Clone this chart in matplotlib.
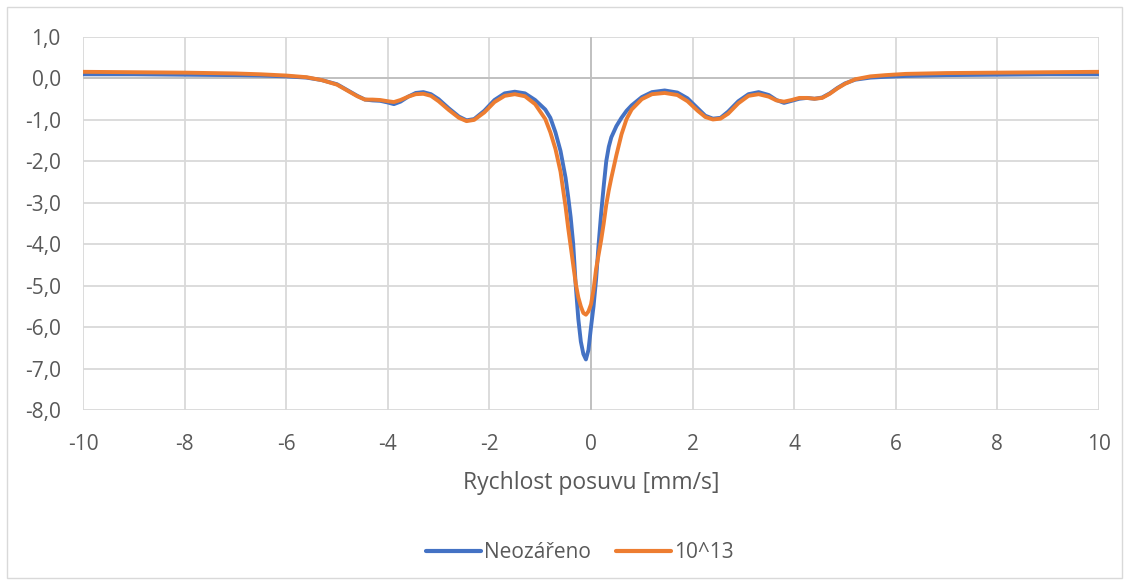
import numpy as np
import matplotlib
matplotlib.use("Agg")
import matplotlib.pyplot as plt
from matplotlib.patches import Rectangle

plt.rcParams["font.family"] = ["Open Sans", "DejaVu Sans"]

# rychlost posuvu [mm/s]
velocity = [-10, -9, -8, -7, -6.5, -6, -5.6, -5.3, -5.0, -4.8, -4.6, -4.45, -4.3, -4.15,
            -4.0, -3.88, -3.75, -3.6, -3.45, -3.3, -3.15, -3.0, -2.8, -2.6, -2.45, -2.3,
            -2.1, -1.9, -1.7, -1.5, -1.3, -1.1, -0.9, -0.8, -0.7, -0.6, -0.5, -0.45, -0.4,
            -0.35, -0.3, -0.25, -0.2, -0.15, -0.1, -0.05, 0.0, 0.05, 0.1, 0.15, 0.2, 0.25,
            0.3, 0.35, 0.4, 0.5, 0.6, 0.7, 0.8, 1.0, 1.2, 1.45, 1.7, 1.9, 2.1, 2.25, 2.4,
            2.55, 2.7, 2.9, 3.1, 3.3, 3.5, 3.65, 3.8, 3.95, 4.1, 4.25, 4.4, 4.55, 4.7,
            4.85, 5.0, 5.2, 5.5, 5.8, 6.2, 7, 8, 9, 10]

neozareno = [0.10, 0.10, 0.09, 0.08, 0.07, 0.05, 0.02, -0.04, -0.14, -0.28, -0.42, -0.51,
             -0.53, -0.54, -0.58, -0.62, -0.56, -0.44, -0.35, -0.33, -0.38, -0.50, -0.72,
             -0.92, -1.01, -0.98, -0.78, -0.52, -0.36, -0.32, -0.36, -0.52, -0.75, -0.95,
             -1.30, -1.75, -2.40, -2.85, -3.35, -4.00, -5.00, -5.80, -6.35, -6.65, -6.78,
             -6.55, -6.00, -5.50, -4.85, -4.00, -3.25, -2.60, -2.00, -1.65, -1.42, -1.15,
             -0.95, -0.78, -0.65, -0.45, -0.33, -0.29, -0.34, -0.48, -0.72, -0.90, -0.97,
             -0.95, -0.80, -0.55, -0.38, -0.33, -0.40, -0.52, -0.59, -0.54, -0.49, -0.47,
             -0.49, -0.46, -0.36, -0.23, -0.12, -0.03, 0.02, 0.04, 0.06, 0.08, 0.09, 0.10,
             0.10]

dose_1e13 = [0.16, 0.15, 0.14, 0.12, 0.10, 0.07, 0.03, -0.04, -0.15, -0.29, -0.43, -0.51,
             -0.51, -0.52, -0.55, -0.57, -0.52, -0.44, -0.38, -0.37, -0.42, -0.55, -0.76,
             -0.95, -1.03, -1.00, -0.82, -0.57, -0.42, -0.38, -0.43, -0.62, -0.98, -1.30,
             -1.70, -2.25, -3.10, -3.60, -4.05, -4.50, -4.95, -5.28, -5.50, -5.66, -5.70,
             -5.62, -5.45, -5.10, -4.60, -4.25, -3.90, -3.50, -3.05, -2.70, -2.40, -1.85,
             -1.35, -0.98, -0.75, -0.50, -0.38, -0.35, -0.40, -0.55, -0.78, -0.93, -0.99,
             -0.97, -0.85, -0.60, -0.42, -0.38, -0.44, -0.53, -0.56, -0.52, -0.47, -0.47,
             -0.49, -0.47, -0.37, -0.24, -0.13, -0.02, 0.05, 0.08, 0.11, 0.13, 0.14, 0.15,
             0.16]

x_ticks = [-10, -8, -6, -4, -2, 0, 2, 4, 6, 8, 10]
y_ticks = [1, 0, -1, -2, -3, -4, -5, -6, -7, -8]
y_labels = ["1,0", "0,0", "-1,0", "-2,0", "-3,0", "-4,0", "-5,0", "-6,0", "-7,0", "-8,0"]

fig = plt.figure(figsize=(11.3, 5.85), dpi=100)
ax = fig.add_axes([83 / 1130, 1 - 410 / 585, (1099 - 83) / 1130, (410 - 37) / 585])

# chart frame
fig.patches.append(Rectangle((7 / 1130, 7 / 585), 1115 / 1130, 571 / 585,
                             transform=fig.transFigure, fill=False,
                             edgecolor="#d9d9d9", lw=1.0))

grid_col = "#d9d9d9"
for xv in x_ticks:
    ax.axvline(xv, color=grid_col, lw=1.3, zorder=0)
for yv in y_ticks:
    ax.axhline(yv, color=grid_col, lw=1.3, zorder=0)
ax.axhline(0, color="#bfbfbf", lw=1.3, zorder=1)
ax.axvline(0, color="#bfbfbf", lw=1.3, zorder=1)

ax.plot(velocity, neozareno, color="#4472C4", lw=2.8, label="Neozářeno",
        solid_capstyle="round", solid_joinstyle="round", zorder=3)
ax.plot(velocity, dose_1e13, color="#ED7D31", lw=2.8, label="10^13",
        solid_capstyle="round", solid_joinstyle="round", zorder=4)

ax.set_xlim(-10, 10)
ax.set_ylim(-8, 1)
ax.set_xticks(x_ticks)
ax.set_xticklabels([str(t) for t in x_ticks])
ax.set_yticks(y_ticks)
ax.set_yticklabels(y_labels)
ax.tick_params(length=0, labelsize=15, labelcolor="#595959")
ax.tick_params(axis="x", pad=17)
ax.tick_params(axis="y", pad=16)
for s in ax.spines.values():
    s.set_visible(False)

ax.set_xlabel("Rychlost posuvu [mm/s]", fontsize=16.5, color="#595959", labelpad=12)

leg = fig.legend(loc="center", bbox_to_anchor=(0.513, 1 - 553 / 585), ncol=2,
                 frameon=False, fontsize=15, handlelength=2.65, handletextpad=0.15,
                 columnspacing=1.2)
for t in leg.get_texts():
    t.set_color("#595959")
for h in leg.get_lines():
    h.set_linewidth(3.0)

fig.savefig("out.png", dpi=100)
